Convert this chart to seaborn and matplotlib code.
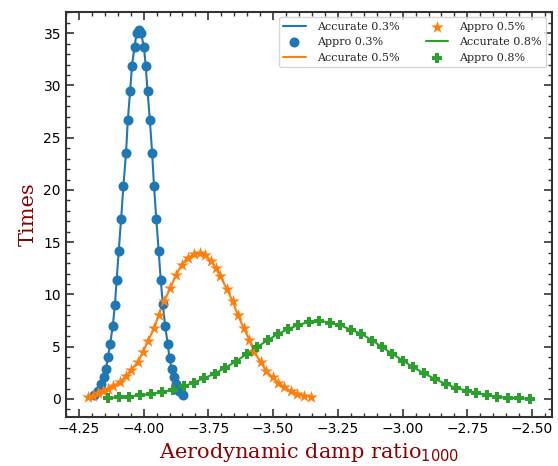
import matplotlib
matplotlib.use("Agg")
import matplotlib.pyplot as plt
import seaborn as sns
import pandas as pd
from matplotlib.ticker import MultipleLocator

# ---- data ----
blue_x = [-4.190, -4.177, -4.164, -4.154, -4.145, -4.138, -4.129, -4.119, -4.111, -4.104,
          -4.096, -4.087, -4.078, -4.068, -4.061, -4.052, -4.045, -4.035, -4.027, -4.018,
          -4.010, -3.999, -3.992, -3.985, -3.976, -3.967, -3.960, -3.951, -3.942, -3.934,
          -3.926, -3.917, -3.907, -3.900, -3.892, -3.884, -3.875, -3.862, -3.849]
blue_y = [0.4, 0.8, 1.4, 2.1, 2.9, 4.0, 5.3, 7.0, 9.0, 11.4,
          14.2, 17.2, 20.4, 23.5, 26.7, 29.5, 31.9, 33.7, 35.0, 35.3,
          35.0, 33.7, 31.9, 29.5, 26.7, 23.5, 20.4, 17.2, 14.2, 11.4,
          9.1, 7.0, 5.3, 3.9, 2.9, 2.1, 1.4, 0.8, 0.4]

orange_x = [-4.215, -4.196, -4.177, -4.157, -4.138, -4.119, -4.093, -4.068, -4.048, -4.023,
            -4.003, -3.984, -3.958, -3.942, -3.920, -3.897, -3.875, -3.853, -3.830, -3.804,
            -3.782, -3.762, -3.738, -3.722, -3.704, -3.678, -3.656, -3.637, -3.614, -3.592,
            -3.573, -3.547, -3.528, -3.502, -3.480, -3.457, -3.432, -3.406, -3.380, -3.354]
orange_y = [0.15, 0.32, 0.54, 0.73, 0.96, 1.21, 1.59, 2.17, 2.78, 3.50,
            4.46, 5.52, 6.81, 8.05, 9.39, 10.6, 11.85, 12.85, 13.5, 13.83,
            13.96, 13.8, 13.16, 12.5, 11.78, 10.49, 9.33, 8.08, 6.83, 5.66,
            4.47, 3.51, 2.71, 2.07, 1.53, 1.11, 0.73, 0.48, 0.32, 0.22]

green_x = [-4.138, -4.096, -4.055, -4.013, -3.971, -3.930, -3.888, -3.845, -3.807, -3.765,
           -3.726, -3.685, -3.644, -3.602, -3.562, -3.521, -3.483, -3.442, -3.402, -3.361,
           -3.322, -3.280, -3.242, -3.200, -3.159, -3.117, -3.078, -3.040, -2.998, -2.959,
           -2.917, -2.876, -2.834, -2.793, -2.753, -2.715, -2.673, -2.635, -2.593, -2.551,
           -2.509]
green_y = [0.10, 0.15, 0.22, 0.38, 0.46, 0.65, 0.89, 1.20, 1.56, 2.00,
           2.43, 2.98, 3.58, 4.31, 4.97, 5.62, 6.19, 6.69, 7.08, 7.38,
           7.48, 7.30, 7.06, 6.64, 6.23, 5.59, 4.95, 4.31, 3.67, 3.03,
           2.45, 1.92, 1.44, 1.05, 0.80, 0.54, 0.38, 0.22, 0.10, 0.08,
           0.03]

series = [
    ("0.3%", blue_x, blue_y, "#1f77b4", "o", 52),
    ("0.5%", orange_x, orange_y, "#ff7f0e", "*", 90),
    ("0.8%", green_x, green_y, "#2ca02c", "P", 62),
]

sns.set_style("ticks")
plt.rcParams["font.family"] = ["DejaVu Sans"]

fig = plt.figure(figsize=(5.58, 4.66), dpi=100)
ax = fig.add_axes([0.118, 0.105, 0.871, 0.870])

for name, xs, ys, col, mk, sz in series:
    df = pd.DataFrame({"x": xs, "y": ys})
    sns.lineplot(data=df, x="x", y="y", ax=ax, color=col, lw=1.5, sort=False,
                 estimator=None, label="Accurate " + name)
    sns.scatterplot(data=df, x="x", y="y", ax=ax, color=col, marker=mk, s=sz,
                    linewidth=0, label="Appro " + name, zorder=3)

order = []
for name, *_ in series:
    order += ["Accurate " + name, "Appro " + name]
h, l = ax.get_legend_handles_labels()
hm = dict(zip(l, h))
ax.legend([hm[k] for k in order], order, ncol=2, loc="upper right",
          prop={"family": "DejaVu Serif", "size": 8}, handlelength=2.0,
          handletextpad=1.0, columnspacing=2.4)

ax.set_xlabel("Aerodynamic damp ratio$_{1000}$", family="DejaVu Serif",
              fontsize=15, color="darkred")
ax.set_ylabel("Times", family="DejaVu Serif", fontsize=15, color="darkred")

ax.xaxis.set_major_locator(MultipleLocator(0.25))
ax.xaxis.set_minor_locator(MultipleLocator(0.05))
ax.yaxis.set_major_locator(MultipleLocator(5))
ax.yaxis.set_minor_locator(MultipleLocator(1))
ax.tick_params(which="both", direction="in", top=True, right=True, colors="#333333",
               labelcolor="black", labelsize=10)
ax.tick_params(which="major", length=6, width=1.2)
ax.tick_params(which="minor", length=3, width=1.0)
for sp in ax.spines.values():
    sp.set_visible(True)
    sp.set_linewidth(1.5)
    sp.set_color("#333333")

fig.savefig("out.png", dpi=100)
